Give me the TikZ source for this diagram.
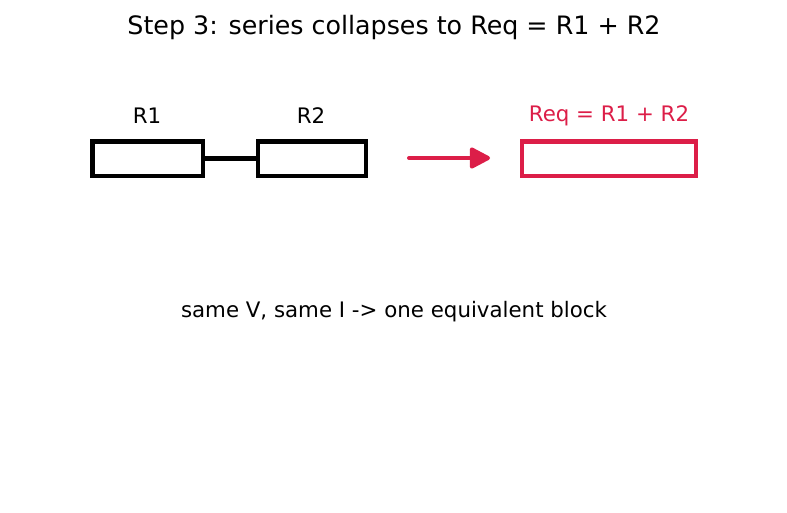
\documentclass[tikz,border=0pt]{standalone}
\usepackage{fontspec}
\setmainfont{DejaVu Sans}
\usetikzlibrary{arrows.meta}
\definecolor{eqred}{RGB}{220,30,72}
\tikzset{
  resbox/.style={draw=black,line width=3.5pt,minimum width=83pt,minimum height=26pt,inner sep=0pt},
  eqbox/.style={draw=eqred,line width=3.5pt,minimum width=130.5pt,minimum height=26pt,inner sep=0pt},
  lbl/.style={font=\fontsize{16}{19}\selectfont,inner sep=0pt}
}
\begin{document}
\begin{tikzpicture}[x=0.75pt,y=-0.75pt]
\useasboundingbox (0,0) rectangle (787,512);
\node[font=\fontsize{19}{23}\selectfont] (title) at (394,28) {Step 3: series collapses to Req = R1 + R2};
\node[resbox] (r1) at (147.5,158.5) {};
\node[resbox,minimum width=81pt] (r2) at (312,158.5) {};
\node[eqbox] (req) at (609,158.5) {};
\node[lbl] (l1) at (147,116) {R1};
\node[lbl] (l2) at (311,116) {R2};
\node[lbl,text=eqred] (leq) at (609,116) {Req = R1 + R2};
\coordinate (a0) at (409,158);
\coordinate (a1) at (490,158);
\draw[line width=3.5pt] (r1.east) -- (r2.west);
\draw[eqred,line width=3pt,line cap=round,-{Triangle[length=17pt,width=17pt,round]}] (a0) -- (a1);
\node[font=\fontsize{16}{19}\selectfont] (note) at (394,312) {same V, same I -> one equivalent block};
\end{tikzpicture}
\end{document}
